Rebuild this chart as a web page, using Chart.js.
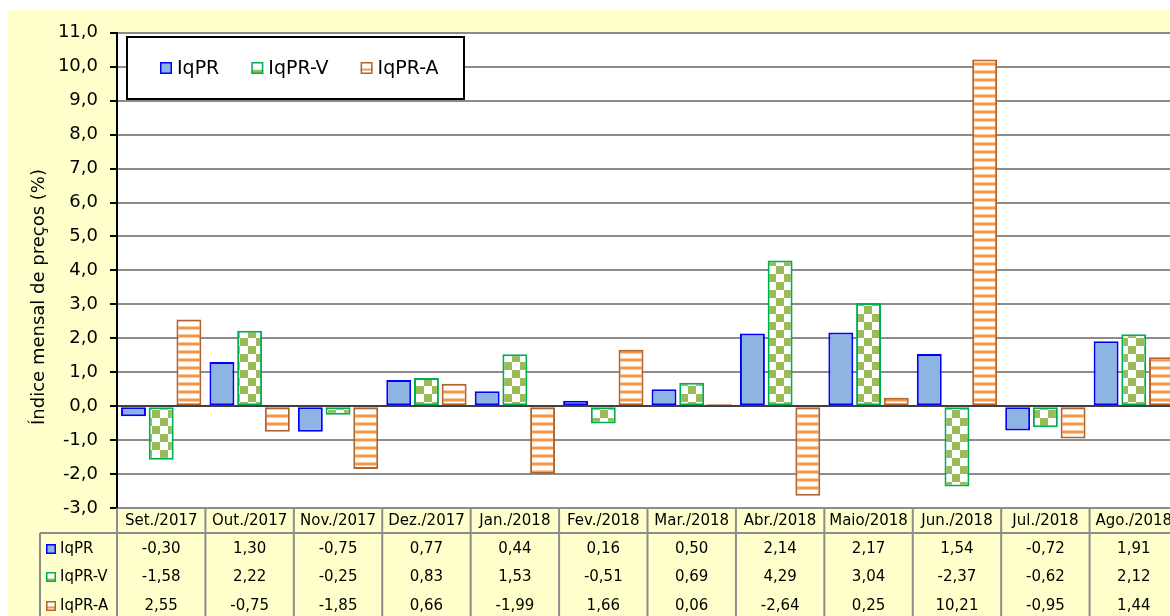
<!DOCTYPE html>
<html>
<head>
<meta charset="utf-8">
<script src="https://cdn.jsdelivr.net/npm/chart.js@4"></script>
<style>
  html, body { margin: 0; padding: 0; background: #fff; overflow: hidden; }
  #wrap { position: absolute; left: 8px; top: 10px; width: 1175px; height: 606px; background: #FFFFCC; }
</style>
</head>
<body>
<div id="wrap"><canvas id="chart"></canvas></div>
<script>
// chart data
const categories = ['Set./2017', 'Out./2017', 'Nov./2017', 'Dez./2017', 'Jan./2018', 'Fev./2018',
                    'Mar./2018', 'Abr./2018', 'Maio/2018', 'Jun./2018', 'Jul./2018', 'Ago./2018'];
const seriesLabels = ['IqPR', 'IqPR-V', 'IqPR-A'];
const iqpr  = [-0.30, 1.30, -0.75, 0.77, 0.44, 0.16, 0.50, 2.14, 2.17, 1.54, -0.72, 1.91];
const iqprV = [-1.58, 2.22, -0.25, 0.83, 1.53, -0.51, 0.69, 4.29, 3.04, -2.37, -0.62, 2.12];
const iqprA = [2.55, -0.75, -1.85, 0.66, -1.99, 1.66, 0.06, -2.64, 0.25, 10.21, -0.95, 1.44];
const yTitle = 'Índice mensal de preços (%)';

const FONT = 'DejaVu Sans';
const canvas = document.getElementById('chart');
const c2d = canvas.getContext('2d');

function checkerPattern() {
  const p = document.createElement('canvas');
  p.width = 16; p.height = 16;
  const g = p.getContext('2d');
  g.fillStyle = '#fff'; g.fillRect(0, 0, 16, 16);
  g.fillStyle = '#9BBB59';
  g.fillRect(0, 0, 8, 8); g.fillRect(8, 8, 8, 8);
  return c2d.createPattern(p, 'repeat');
}
function stripePattern() {
  const p = document.createElement('canvas');
  p.width = 8; p.height = 8;
  const g = p.getContext('2d');
  g.fillStyle = '#fff'; g.fillRect(0, 0, 8, 8);
  g.fillStyle = '#FBC89A'; g.fillRect(0, 4, 8, 4);
  g.fillStyle = '#F79646'; g.fillRect(0, 5, 8, 2);
  return c2d.createPattern(p, 'repeat');
}

const styles = [
  { fill: '#8DB4E2', border: '#0000FF' },
  { fill: checkerPattern(), border: '#00B050' },
  { fill: stripePattern(), border: '#B0642E' }
];
const seriesData = [iqpr, iqprV, iqprA];

function fmt(v, d) { return v.toFixed(d).replace('.', ','); }

function drawMarker(ctx, i, x, y, s) {
  ctx.save();
  ctx.fillStyle = '#fff';
  ctx.fillRect(x, y, s, s);
  if (i === 0) { ctx.fillStyle = styles[0].fill; ctx.fillRect(x, y, s, s); }
  if (i === 1) { ctx.fillStyle = '#9BBB59'; ctx.fillRect(x, y + s * 0.65, s, s * 0.35); }
  if (i === 2) { ctx.fillStyle = '#F79646'; ctx.fillRect(x, y + s * 0.55, s, 2); }
  ctx.strokeStyle = styles[i].border;
  ctx.lineWidth = 1.5;
  ctx.strokeRect(x + 0.75, y + 0.75, s - 1.5, s - 1.5);
  ctx.restore();
}

// white plot area
const plotBg = {
  id: 'plotBg',
  beforeDraw(chart) {
    const { ctx, chartArea: a } = chart;
    ctx.save();
    ctx.fillStyle = '#fff';
    ctx.fillRect(a.left, a.top, a.right - a.left, a.bottom - a.top);
    ctx.restore();
  }
};

const extras = {
  id: 'extras',
  afterDraw(chart) {
    const { ctx, chartArea: a, scales: { x } } = chart;
    ctx.save();

    // y title
    ctx.save();
    ctx.translate(31, 287);
    ctx.rotate(-Math.PI / 2);
    ctx.font = '18px "' + FONT + '"';
    ctx.fillStyle = '#000';
    ctx.textAlign = 'center';
    ctx.textBaseline = 'middle';
    ctx.fillText(yTitle, 0, 0);
    ctx.restore();

    // legend box
    const lb = { x: 119, y: 27, w: 337, h: 62 };
    ctx.fillStyle = '#fff';
    ctx.fillRect(lb.x, lb.y, lb.w, lb.h);
    ctx.strokeStyle = '#000';
    ctx.lineWidth = 2;
    ctx.strokeRect(lb.x, lb.y, lb.w, lb.h);
    ctx.font = '19px "' + FONT + '"';
    ctx.textBaseline = 'middle';
    ctx.textAlign = 'left';
    let lx = lb.x + 33;
    const ly = lb.y + lb.h / 2;
    seriesLabels.forEach((lab, i) => {
      drawMarker(ctx, i, lx, ly - 6, 12);
      ctx.fillStyle = '#000';
      ctx.fillText(lab, lx + 17, ly + 1);
      lx += 17 + ctx.measureText(lab).width + 32;
    });

    // data table
    const colW = x.getPixelForValue(1) - x.getPixelForValue(0);
    const headTop = a.bottom;
    const headBot = a.bottom + 25;
    const bottom = chart.height + 5;
    const tableLeft = 32;
    const rowY = [headBot + 16, headBot + 44, headBot + 73];

    ctx.strokeStyle = '#8C8C8C';
    ctx.lineWidth = 2;
    ctx.beginPath();
    ctx.moveTo(tableLeft, headBot); ctx.lineTo(chart.width + 5, headBot);
    ctx.moveTo(tableLeft, headBot); ctx.lineTo(tableLeft, bottom);
    for (let i = 0; i <= categories.length; i++) {
      const bx = x.getPixelForValue(0) - colW / 2 + i * colW;
      ctx.moveTo(bx, headTop); ctx.lineTo(bx, bottom);
    }
    ctx.stroke();

    ctx.fillStyle = '#000';
    ctx.font = '15px "' + FONT + '"';
    ctx.textAlign = 'center';
    ctx.textBaseline = 'middle';
    categories.forEach((cat, i) => {
      const cx = x.getPixelForValue(i);
      ctx.fillText(cat, cx, (headTop + headBot) / 2 + 1);
      seriesData.forEach((arr, s) => ctx.fillText(fmt(arr[i], 2), cx, rowY[s]));
    });
    ctx.textAlign = 'left';
    seriesLabels.forEach((lab, s) => {
      drawMarker(ctx, s, tableLeft + 6, rowY[s] - 5, 10);
      ctx.fillStyle = '#000';
      ctx.fillText(lab, tableLeft + 20, rowY[s]);
    });
    ctx.restore();
  }
};

new Chart(canvas, {
  type: 'bar',
  data: {
    labels: categories,
    datasets: seriesData.map((arr, i) => ({
      label: seriesLabels[i],
      data: arr,
      backgroundColor: styles[i].fill,
      borderColor: styles[i].border,
      borderWidth: 2,
      borderSkipped: false,
      categoryPercentage: 0.94,
      barPercentage: 0.9
    }))
  },
  options: {
    responsive: true,
    maintainAspectRatio: false,
    animation: false,
    layout: { padding: { top: 12, right: 5, bottom: 108, left: 0 } },
    plugins: { legend: { display: false }, tooltip: { enabled: false } },
    scales: {
      x: { display: false },
      y: {
        min: -3, max: 11,
        ticks: {
          stepSize: 1,
          padding: 12,
          color: '#000',
          font: { family: FONT, size: 18 },
          callback: v => fmt(v, 1)
        },
        grid: {
          color: c => (c.tick && c.tick.value === 0 ? '#404040' : '#8C8C8C'),
          lineWidth: 2,
          tickLength: 7,
          tickColor: '#000'
        },
        border: { color: '#000', width: 2 },
        afterFit(s) { s.width = 109; }
      }
    }
  },
  plugins: [plotBg, extras]
});
</script>
</body>
</html>
